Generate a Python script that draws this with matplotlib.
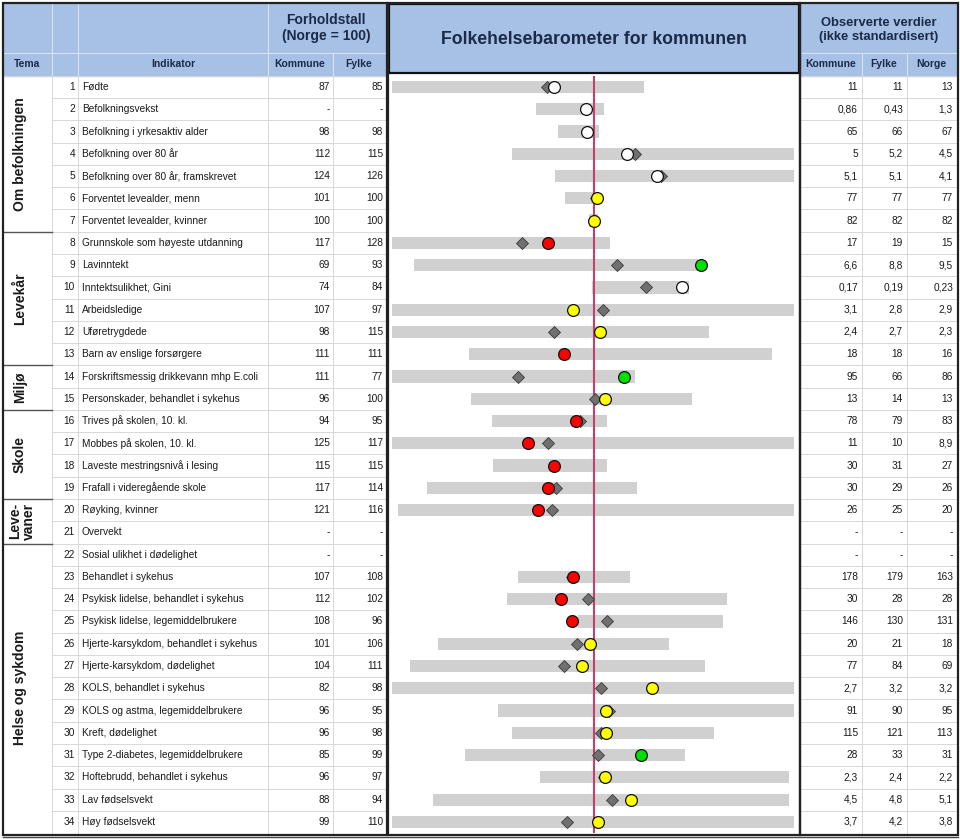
import numpy as np
import matplotlib.pyplot as plt
from matplotlib.patches import Rectangle

plt.rcParams['font.family'] = ['Liberation Sans', 'DejaVu Sans']

# ---- data ----
indikator = [
    "Fødte", "Befolkningsvekst", "Befolkning i yrkesaktiv alder",
    "Befolkning over 80 år", "Befolkning over 80 år, framskrevet",
    "Forventet levealder, menn", "Forventet levealder, kvinner",
    "Grunnskole som høyeste utdanning", "Lavinntekt", "Inntektsulikhet, Gini",
    "Arbeidsledige", "Uføretrygdede", "Barn av enslige forsørgere",
    "Forskriftsmessig drikkevann mhp E.coli", "Personskader, behandlet i sykehus",
    "Trives på skolen, 10. kl.", "Mobbes på skolen, 10. kl.",
    "Laveste mestringsnivå i lesing", "Frafall i videregående skole",
    "Røyking, kvinner", "Overvekt", "Sosial ulikhet i dødelighet",
    "Behandlet i sykehus", "Psykisk lidelse, behandlet i sykehus",
    "Psykisk lidelse, legemiddelbrukere", "Hjerte-karsykdom, behandlet i sykehus",
    "Hjerte-karsykdom, dødelighet", "KOLS, behandlet i sykehus",
    "KOLS og astma, legemiddelbrukere", "Kreft, dødelighet",
    "Type 2-diabetes, legemiddelbrukere", "Hoftebrudd, behandlet i sykehus",
    "Lav fødselsvekt", "Høy fødselsvekt",
]
forhold_kommune = ["87", "-", "98", "112", "124", "101", "100", "117", "69", "74",
                   "107", "98", "111", "111", "96", "94", "125", "115", "117", "121",
                   "-", "-", "107", "112", "108", "101", "104", "82", "96", "96",
                   "85", "96", "88", "99"]
forhold_fylke = ["85", "-", "98", "115", "126", "100", "100", "128", "93", "84",
                 "97", "115", "111", "77", "100", "95", "117", "115", "114", "116",
                 "-", "-", "108", "102", "96", "106", "111", "98", "95", "98",
                 "99", "97", "94", "110"]
obs_kommune = ["11", "0,86", "65", "5", "5,1", "77", "82", "17", "6,6", "0,17",
               "3,1", "2,4", "18", "95", "13", "78", "11", "30", "30", "26",
               "-", "-", "178", "30", "146", "20", "77", "2,7", "91", "115",
               "28", "2,3", "4,5", "3,7"]
obs_fylke = ["11", "0,43", "66", "5,2", "5,1", "77", "82", "19", "8,8", "0,19",
             "2,8", "2,7", "18", "66", "14", "79", "10", "31", "29", "25",
             "-", "-", "179", "28", "130", "21", "84", "3,2", "90", "121",
             "33", "2,4", "4,8", "4,2"]
obs_norge = ["13", "1,3", "67", "4,5", "4,1", "77", "82", "15", "9,5", "0,23",
             "2,9", "2,3", "16", "86", "13", "83", "8,9", "27", "26", "20",
             "-", "-", "163", "28", "131", "18", "69", "3,2", "95", "113",
             "31", "2,2", "5,1", "3,8"]

tema = ["Om befolkningen", "Levekår", "Miljø", "Skole", "Leve-\nvaner", "Helse og sykdom"]
tema_rows = [(1, 7), (8, 13), (14, 15), (16, 19), (20, 21), (22, 34)]

# barometer (standardised scale, Norge = 0): range of kommuner in fylket, kommune, fylke
bar_lo = [-2.02, -0.58, -0.36, -0.82, -0.39, -0.29, -0.05, -2.02, -1.80, -0.02,
          -2.02, -2.02, -1.25, -2.02, -1.23, -1.02, -2.02, -1.01, -1.67, -1.96,
          np.nan, np.nan, -0.76, -0.87, -0.16, -1.56, -1.84, -2.02, -0.96, -0.82,
          -1.29, -0.54, -1.61, -2.02]
bar_hi = [0.50, 0.10, 0.05, 2.00, 2.00, 0.00, 0.04, 0.16, 1.04, 0.95,
          2.00, 1.15, 1.78, 0.41, 0.98, 0.13, 2.00, 0.13, 0.43, 2.00,
          np.nan, np.nan, 0.36, 1.33, 1.29, 0.75, 1.11, 2.00, 2.00, 1.20,
          0.91, 1.95, 1.95, 2.00]
kommune_pos = [-0.40, -0.08, -0.07, 0.33, 0.63, 0.03, 0.00, -0.46, 1.07, 0.88,
               -0.21, 0.06, -0.30, 0.30, 0.11, -0.18, -0.66, -0.40, -0.46, -0.56,
               np.nan, np.nan, -0.21, -0.33, -0.22, -0.04, -0.12, 0.58, 0.12, 0.12,
               0.47, 0.11, 0.37, 0.04]
fylke_pos = [-0.47, np.nan, -0.07, 0.41, 0.67, 0.02, 0.00, -0.72, 0.23, 0.52,
             0.09, -0.40, -0.30, -0.76, 0.01, -0.14, -0.46, -0.40, -0.38, -0.42,
             np.nan, np.nan, -0.22, -0.06, 0.13, -0.17, -0.30, 0.07, 0.15, 0.07,
             0.04, 0.10, 0.18, -0.27]
# w = ikke vurdert, y = ikke signifikant, r = signifikant dårligere, g = signifikant bedre
vurdering = ["w", "w", "w", "w", "w", "y", "y", "r", "g", "w",
             "y", "y", "r", "g", "y", "r", "r", "r", "r", "r",
             "", "", "r", "r", "r", "y", "y", "y", "y", "y",
             "g", "y", "y", "y"]
farge = {"w": "white", "y": "#FFFF00", "r": "#FF0000", "g": "#00E000"}

# ---- layout ----
W, H = 960, 839
fig = plt.figure(figsize=(W / 100, H / 100), dpi=100)
bg = fig.add_axes([0, 0, 1, 1])
bg.set_xlim(0, W)
bg.set_ylim(H, 0)
bg.axis("off")

n = len(indikator)
y1, pitch = 87.0, 22.27


def ry(r):
    return y1 + (r - 1) * pitch


top = ry(1) - pitch / 2
bottom = ry(n) + pitch / 2
blue = "#A7C0E6"
navy = "#1B2A48"
txt = "#1A1A1A"
grid = "#D8D8D8"
fs = 7.3

# header fills
bg.add_patch(Rectangle((4, 4), 382, top - 4, color=blue, zorder=0))
bg.add_patch(Rectangle((389, 4), 410, 69, facecolor=blue, edgecolor="#111111", lw=1.6, zorder=1))
bg.add_patch(Rectangle((801, 4), 156, top - 4, color=blue, zorder=0))

# header separators
for x in (52, 78, 268):
    bg.plot([x, x], [4, top], color="#D8E3F3", lw=0.8)
bg.plot([333, 333], [53, top], color="#D8E3F3", lw=0.8)
bg.plot([4, 386], [53, 53], color="#D8E3F3", lw=0.8)
for x in (862, 907):
    bg.plot([x, x], [53, top], color="#D8E3F3", lw=0.8)
bg.plot([801, 957], [53, 53], color="#D8E3F3", lw=0.8)

bg.text(326, 28, "Forholdstall\n(Norge = 100)", ha="center", va="center",
        fontsize=10, fontweight="bold", color=navy, linespacing=1.2)
bg.text(594, 39, "Folkehelsebarometer for kommunen", ha="center", va="center",
        fontsize=12.7, fontweight="bold", color=navy)
bg.text(879, 30, "Observerte verdier\n(ikke standardisert)", ha="center", va="center",
        fontsize=9.4, fontweight="bold", color=navy, linespacing=1.15)
hy = (53 + top) / 2
for x, s in [(27, "Tema"), (173, "Indikator"), (300, "Kommune"), (359, "Fylke"),
             (831, "Kommune"), (884, "Fylke"), (931, "Norge")]:
    bg.text(x, hy, s, ha="center", va="center", fontsize=7.5, fontweight="bold", color=navy)

# table grid
for r in range(1, n):
    yb = ry(r) + pitch / 2
    bg.plot([52, 386], [yb, yb], color=grid, lw=0.7)
    bg.plot([801, 957], [yb, yb], color=grid, lw=0.7)
for x in (52, 78, 268, 333):
    bg.plot([x, x], [top, bottom], color=grid, lw=0.7)
for x in (862, 907):
    bg.plot([x, x], [top, bottom], color=grid, lw=0.7)
bg.plot([4, 386], [top, top], color=grid, lw=0.7)
bg.plot([801, 957], [top, top], color=grid, lw=0.7)

# tema groups
for name, (a, b) in zip(tema, tema_rows):
    if a > 1:
        yb = ry(a) - pitch / 2
        bg.plot([4, 52], [yb, yb], color="#555555", lw=1.0)
    bg.text(20 if "\n" not in name else 22, (ry(a) + ry(b)) / 2, name, rotation=90,
            ha="center", va="center", fontsize=10, fontweight="bold", color=txt,
            linespacing=0.95)

# table values
for i in range(n):
    y = ry(i + 1)
    bg.text(75, y, str(i + 1), ha="right", va="center", fontsize=fs, color=txt)
    bg.text(82, y, indikator[i], ha="left", va="center", fontsize=fs, color=txt)
    bg.text(330, y, forhold_kommune[i], ha="right", va="center", fontsize=fs, color=txt)
    bg.text(383, y, forhold_fylke[i], ha="right", va="center", fontsize=fs, color=txt)
    bg.text(858, y, obs_kommune[i], ha="right", va="center", fontsize=fs, color=txt)
    bg.text(903, y, obs_fylke[i], ha="right", va="center", fontsize=fs, color=txt)
    bg.text(953, y, obs_norge[i], ha="right", va="center", fontsize=fs, color=txt)

# box borders
for (x0, x1) in [(3, 387), (388, 800), (800, 958)]:
    bg.add_patch(Rectangle((x0, 3), x1 - x0, bottom + 2 - 3, fill=False,
                           edgecolor="#222222", lw=1.6, zorder=5))
bg.plot([3, 958], [bottom + 4, bottom + 4], color="#444444", lw=1.0)

# ---- barometer ----
rows = np.arange(1, n + 1)
ax = fig.add_axes([389 / W, 1 - (bottom) / H, 410 / W, (bottom - top) / H])
ax.set_xlim(-2.05, 2.05)
ax.set_ylim(1 + (bottom - y1) / pitch, 1 + (top - y1) / pitch)
ax.axis("off")
ax.patch.set_alpha(0)

lo = np.array(bar_lo)
hi = np.array(bar_hi)
ax.barh(rows, hi - lo, left=lo, height=0.55, color="#D0D0D0", zorder=1)
ax.axvline(0, color="#C2406E", lw=1.5, zorder=2)
ax.plot(fylke_pos, rows, ls="none", marker="D", markersize=5.8,
        markerfacecolor="#707070", markeredgecolor="#3A3A3A", markeredgewidth=0.6, zorder=3)
for i in range(n):
    if vurdering[i]:
        ax.plot(kommune_pos[i], rows[i], ls="none", marker="o", markersize=8.5,
                markerfacecolor=farge[vurdering[i]], markeredgecolor="#111111",
                markeredgewidth=0.9, zorder=4)

fig.savefig("out.png", dpi=100)
